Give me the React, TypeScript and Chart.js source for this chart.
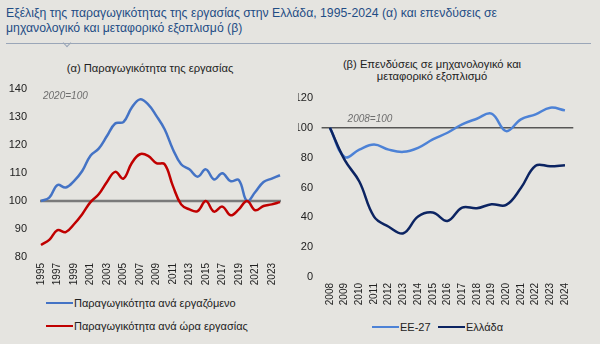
import React, { useEffect, useRef, useState } from "react";
import { Chart, registerables } from "chart.js";

Chart.register(...registerables);

const yearsA = ["1995","1996","1997","1998","1999","2000","2001","2002","2003","2004","2005","2006","2007","2008","2009","2010","2011","2012","2013","2014","2015","2016","2017","2018","2019","2020","2021","2022","2023","2024"];
const perWorker = [100, 101.2, 105.7, 104.8, 107.1, 110.7, 116.2, 118.7, 123.2, 127.7, 128.2, 133.3, 136.3, 134.5, 130.4, 125.6, 118.5, 113.1, 111.3, 108.7, 111.3, 107.7, 109.9, 107.1, 107.5, 100, 103.2, 106.8, 108, 109.2];
const perHour = [84.3, 86.1, 89.6, 88.9, 91.7, 95.3, 99.6, 102.4, 106.8, 110.4, 108, 113.5, 116.7, 116.1, 113.5, 113.1, 105.4, 98.8, 97, 96.4, 100, 96.2, 98, 94.9, 97, 100, 96.7, 98.2, 98.8, 99.6];

const yearsB = ["2008","2009","2010","2011","2012","2013","2014","2015","2016","2017","2018","2019","2020","2021","2022","2023","2024"];
const eu27 = [100, 80.5, 85.4, 88.8, 85.4, 83.9, 86.6, 92.2, 96.7, 102.3, 106.1, 109.5, 97.8, 105.7, 109, 113.5, 111.7];
const greece = [100, 78.5, 64, 40.5, 33.7, 29.3, 40.5, 43.2, 37.6, 46.5, 46.1, 48.8, 48.3, 59.6, 74.6, 74.2, 74.9];

const titleLine1 = "Εξέλιξη της παραγωγικότητας της εργασίας στην Ελλάδα, 1995-2024 (α) και επενδύσεις σε";
const titleLine2 = "μηχανολογικό και μεταφορικό εξοπλισμό (β)";
const subA = "(α) Παραγωγικότητα της εργασίας";
const subB1 = "(β) Επενδύσεις σε μηχανολογικό και";
const subB2 = "μεταφορικό εξοπλισμό";
const legA = ["Παραγωγικότητα ανά εργαζόμενο", "Παραγωγικότητα ανά ώρα εργασίας"];
const legB = ["ΕΕ-27", "Ελλάδα"];
const baseA = "2020=100";
const baseB = "2008=100";

const BG = "#e5e4e0";
const FONT = "Arial, 'Liberation Sans', sans-serif";
const C_BLUE = "#4473c5";
const C_RED = "#c00000";
const C_EU = "#4d82d6";
const C_GR = "#0c2462";
const TITLE_W = 491;

function refLinePlugin(value: number, color: string, width: number, label: string, lx: number, ly: number) {
  return {
    id: "refline",
    beforeDatasetsDraw(chart: any) {
      const { ctx, chartArea, scales } = chart;
      const y = scales.y.getPixelForValue(value);
      ctx.save();
      ctx.strokeStyle = color;
      ctx.lineWidth = width;
      ctx.beginPath();
      ctx.moveTo(chartArea.left - 1, y);
      ctx.lineTo(chartArea.right + 1, y);
      ctx.stroke();
      ctx.fillStyle = "#6e6e6e";
      ctx.font = "italic 10px " + FONT;
      ctx.textBaseline = "middle";
      ctx.fillText(label, chartArea.left + lx, chartArea.top + ly);
      ctx.restore();
    },
  };
}

function makeOptions(min: number, max: number, step: number, offset: boolean, skipOdd: boolean, yPad: number, yWidth: number, xHeight: number, layoutPad: any) {
  return {
    responsive: false,
    animation: false as const,
    maintainAspectRatio: false,
    layout: { padding: layoutPad },
    plugins: { legend: { display: false }, title: { display: false }, tooltip: { enabled: false } },
    elements: { point: { radius: 0 }, line: { tension: 0.4, borderWidth: 2.5 } },
    scales: {
      x: {
        offset,
        grid: { display: false, drawTicks: false },
        border: { display: false },
        afterFit: (s: any) => { s.height = xHeight; },
        ticks: {
          autoSkip: false,
          minRotation: 90,
          maxRotation: 90,
          padding: 6,
          color: "#222",
          font: { size: 10, family: FONT },
          callback: function (this: any, _v: any, i: number) {
            const lab = this.getLabelForValue(i);
            return skipOdd && i % 2 === 1 ? "" : lab;
          },
        },
      },
      y: {
        min,
        max,
        grid: { display: false, drawTicks: false },
        border: { display: false },
        afterFit: (s: any) => { s.width = yWidth; s.paddingTop = 6; s.paddingBottom = 6; },
        ticks: { stepSize: step, padding: yPad, color: "#222", font: { size: 11, family: FONT } },
      },
    },
  };
}

function LeftChart() {
  const ref = useRef<HTMLCanvasElement>(null);
  useEffect(() => {
    const chart = new Chart(ref.current!, {
      type: "line",
      data: {
        labels: yearsA,
        datasets: [
          { label: legA[0], data: perWorker, borderColor: C_BLUE, backgroundColor: C_BLUE, order: 1 },
          { label: legA[1], data: perHour, borderColor: C_RED, backgroundColor: C_RED, order: 0 },
        ],
      },
      options: makeOptions(80, 140, 10, false, true, 14, 41, 30, { left: 0, right: 17, top: 9, bottom: 0 }) as any,
      plugins: [refLinePlugin(100, "#7a7a7a", 2.5, baseA, 2, 7)],
    });
    return () => chart.destroy();
  }, []);
  return <canvas ref={ref} width={298} height={207} style={{ position: "absolute", left: 0, top: 80, width: 298, height: 207 }} />;
}

function RightChart() {
  const ref = useRef<HTMLCanvasElement>(null);
  useEffect(() => {
    const chart = new Chart(ref.current!, {
      type: "line",
      data: {
        labels: yearsB,
        datasets: [
          { label: legB[0], data: eu27, borderColor: C_EU, backgroundColor: C_EU, order: 1 },
          { label: legB[1], data: greece, borderColor: C_GR, backgroundColor: C_GR, order: 0 },
        ],
      },
      options: makeOptions(0, 120, 20, true, false, 9.6, 24.6, 30, { left: 0, right: 27.7, top: 18, bottom: 0 }) as any,
      plugins: [refLinePlugin(100, "#111", 1, baseB, 25, 21)],
    });
    return () => chart.destroy();
  }, []);
  return <canvas ref={ref} width={302} height={227} style={{ position: "absolute", left: 298, top: 80, width: 302, height: 227 }} />;
}

function LegendItem({ color, text, left, top }: { color: string; text: string; left: number; top: number }) {
  return (
    <div style={{ position: "absolute", left, top, display: "flex", alignItems: "center", whiteSpace: "nowrap", fontSize: 11, color: "#222", fontFamily: FONT, height: 14 }}>
      <span style={{ display: "inline-block", width: 27, height: 2, background: color, marginRight: 1 }} />
      <span>{text}</span>
    </div>
  );
}

function Title() {
  const [sx, setSx] = useState(1);
  useEffect(() => {
    const c = document.createElement("canvas").getContext("2d")!;
    c.font = "13px " + FONT;
    const w = c.measureText(titleLine1).width;
    if (w > 0) setSx(TITLE_W / w);
  }, []);
  return (
    <div style={{ position: "absolute", left: 6, top: 5, whiteSpace: "nowrap", fontSize: 13, lineHeight: "15px", color: "#1f4d85", transform: `scaleX(${sx})`, transformOrigin: "0 0" }}>
      {titleLine1}<br />{titleLine2}
    </div>
  );
}

export default function App() {
  return (
    <div style={{ position: "fixed", left: 0, top: 0, width: 600, height: 344, background: BG, overflow: "hidden", fontFamily: FONT }}>
      <Title />
      <div style={{ position: "absolute", left: 6, top: 43, width: 585, height: 1, background: "#9aa6b8" }} />
      <div style={{ position: "absolute", left: 64, top: 40, width: 5, height: 5, borderRight: "1px solid #9aa6b8", borderBottom: "1px solid #9aa6b8", transform: "rotate(45deg)" }} />
      <div style={{ position: "absolute", left: 0, width: 300, top: 62, textAlign: "center", fontSize: 11.2, color: "#222" }}>{subA}</div>
      <div style={{ position: "absolute", left: 298, width: 268, top: 58, textAlign: "center", fontSize: 11.2, lineHeight: "12px", color: "#222" }}>{subB1}<br />{subB2}</div>
      <LeftChart />
      <RightChart />
      <LegendItem color={C_BLUE} text={legA[0]} left={46} top={296} />
      <LegendItem color={C_RED} text={legA[1]} left={46} top={319} />
      <LegendItem color={C_EU} text={legB[0]} left={372} top={320} />
      <LegendItem color={C_GR} text={legB[1]} left={438} top={320} />
    </div>
  );
}
